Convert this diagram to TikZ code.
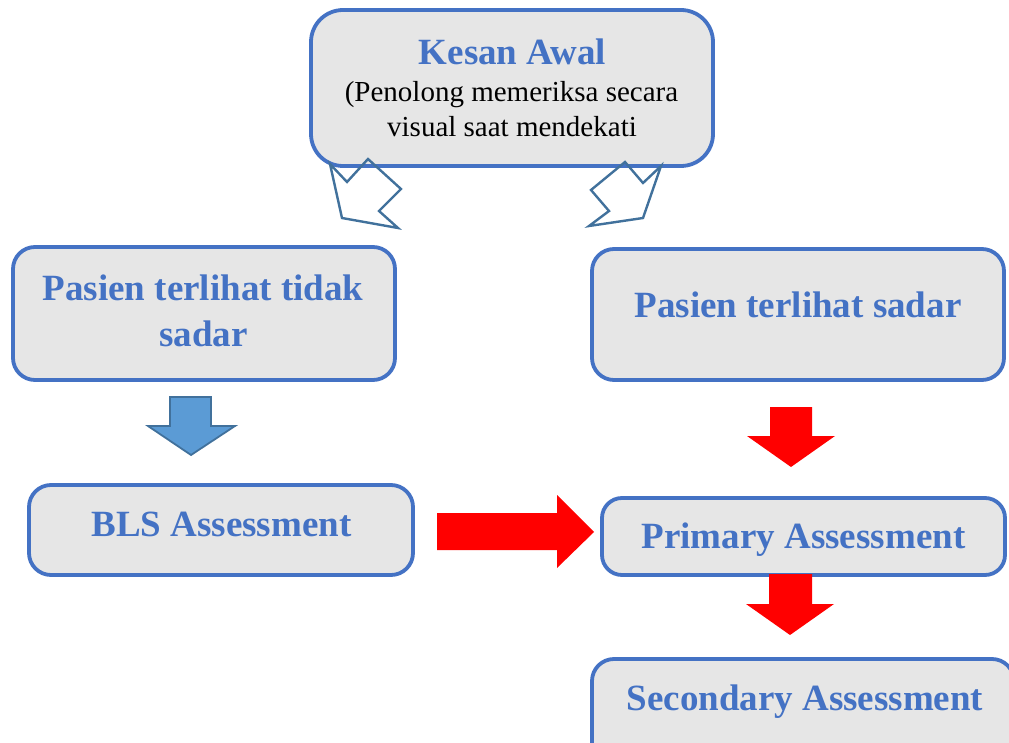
\documentclass[tikz,border=0pt]{standalone}
\usepackage{fontspec}
\setmainfont{Liberation Serif}
\definecolor{boxline}{HTML}{4472C4}
\definecolor{boxfill}{HTML}{E6E6E6}
\definecolor{arrowline}{HTML}{41719C}
\definecolor{arrowblue}{HTML}{5B9BD5}
\definecolor{arrowred}{HTML}{FF0000}
\tikzset{
  flowbox/.style={draw=boxline, fill=boxfill, line width=3.8pt,
    rounded corners=#1, inner sep=0pt, outer sep=0pt},
  flowbox/.default=22pt,
  title/.style={anchor=base, inner sep=0pt, text=boxline,
    font=\fontsize{37}{44}\selectfont\bfseries},
  note/.style={anchor=base, inner sep=0pt, text=black,
    font=\fontsize{29}{33}\selectfont},
  hollowarrow/.style={draw=arrowline, line width=2.4pt, line join=miter},
  bluearrow/.style={draw=arrowline, fill=arrowblue, line width=1.8pt},
  redarrow/.style={fill=arrowred},
}
\begin{document}
\begin{tikzpicture}[x=1pt, y=-1pt]
\useasboundingbox (0,0) rectangle (1009,743);
\clip (0,0) rectangle (1009,743);

% boxes (centre, width, height)
\node[flowbox=32pt, minimum width=402pt, minimum height=156pt] (kesan) at (512,88) {};
\node[flowbox, minimum width=382pt, minimum height=133pt] (tidak) at (204,313.5) {};
\node[flowbox, minimum width=412pt, minimum height=131pt] (sadar) at (798,314.5) {};
\node[flowbox, minimum width=384pt, minimum height=90pt] (bls) at (221,530) {};
\node[flowbox=20pt, minimum width=403pt, minimum height=77pt] (primary) at (803.5,536.5) {};
\node[flowbox, minimum width=422pt, minimum height=131pt] (secondary) at (803,724.5) {};

% texts
\node[title] (t1) at (512.5,65) {Kesan Awal};
\node[note] (t2) at (511.5,102) {(Penolong memeriksa secara};
\node[note] (t3) at (512,137) {visual saat mendekati};
\node[title] (t4) at (203,301) {Pasien terlihat tidak};
\node[title] (t5) at (203.5,346) {sadar};
\node[title] (t6) at (798,317) {Pasien terlihat sadar};
\node[title] (t7) at (221.5,536) {BLS Assessment};
\node[title] (t8) at (803.5,548) {Primary Assessment};
\node[title] (t9) at (805,710) {Secondary Assessment};

% hollow arrows from the first impression box
\draw[hollowarrow] (330,164) -- (347,182) -- (368,159) -- (401,189)
  -- (379,211) -- (398,228) -- (342,218) -- cycle;
\draw[hollowarrow] (661,166) -- (643,183) -- (625,162) -- (591,190)
  -- (609,211) -- (589,226) -- (643,218) -- cycle;

% blue block arrow
\draw[bluearrow] (170,397) -- (211,397) -- (211,426) -- (235,426)
  -- (191,455) -- (148,426) -- (170,426) -- cycle;

% red block arrows
\fill[redarrow] (770,407) -- (812,407) -- (812,436) -- (835,436)
  -- (791,467) -- (747,436) -- (770,436) -- cycle;
\fill[redarrow] (437,513) -- (557,513) -- (557,495) -- (594,532)
  -- (557,568) -- (557,550) -- (437,550) -- cycle;
\fill[redarrow] (769,574) -- (812,574) -- (812,604) -- (834,604)
  -- (790,635) -- (746,604) -- (769,604) -- cycle;
\end{tikzpicture}
\end{document}
